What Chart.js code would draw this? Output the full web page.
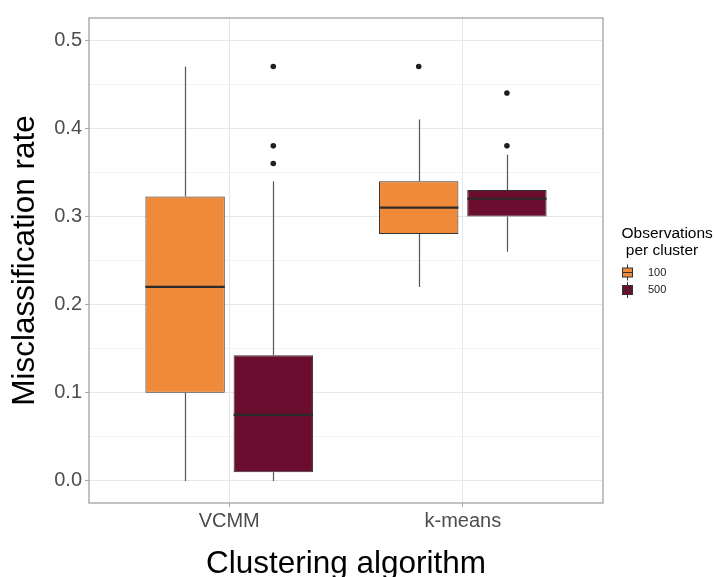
<!DOCTYPE html>
<html>
<head>
<meta charset="utf-8">
<script src="https://cdn.jsdelivr.net/npm/chart.js@4.4.1/dist/chart.umd.min.js"></script>
<style>
html, body { margin: 0; padding: 0; background: #fff; }
</style>
</head>
<body>
<canvas id="myChart" width="715" height="577"></canvas>
<script>
const categories = ['VCMM', 'k-means'];
const groups = ['100', '500'];
const groupColors = ['#F08A3B', '#6B0D2E'];

// box statistics per category
const lower100 = [0.00, 0.22];
const q1_100 = [0.10, 0.28];
const median100 = [0.22, 0.31];
const q3_100 = [0.3225, 0.34];
const upper100 = [0.47, 0.41];
const outliers100 = [[], [0.47]];

const lower500 = [0.00, 0.26];
const q1_500 = [0.01, 0.30];
const median500 = [0.075, 0.32];
const q3_500 = [0.1425, 0.33];
const upper500 = [0.34, 0.37];
const outliers500 = [[0.47, 0.38, 0.36], [0.44, 0.38]];

const yMajorTicks = [0, 0.1, 0.2, 0.3, 0.4, 0.5];
const yTickLabels = ['0.0', '0.1', '0.2', '0.3', '0.4', '0.5'];
const yMinorTicks = [0.05, 0.15, 0.25, 0.35, 0.45];

const FONT = "'Liberation Sans', Arial, Helvetica, sans-serif";
const dodgeWidth = 0.755;   // share of a category taken by both boxes
const stats = [
  {lo: lower100, q1: q1_100, med: median100, q3: q3_100, hi: upper100, out: outliers100},
  {lo: lower500, q1: q1_500, med: median500, q3: q3_500, hi: upper500, out: outliers500}
];

function isMajor(v) {
  return Math.abs(v * 10 - Math.round(v * 10)) < 1e-6;
}

let datasets = [];
stats.forEach((s, g) => {
  datasets.push({
    type: 'bar',
    label: groups[g],
    data: categories.map((c, i) => ({x: i + 1, y: [s.q1[i], s.q3[i]]})),
    backgroundColor: groupColors[g],
    borderColor: '#333333',
    borderWidth: 1,
    borderSkipped: false,
    barPercentage: 0.9,
    categoryPercentage: dodgeWidth,
    order: 2
  });
});
stats.forEach((s, g) => {
  const shift = (g - 0.5) * dodgeWidth / 2;
  let pts = [];
  categories.forEach((c, i) => {
    s.out[i].forEach(v => pts.push({x: i + 1 + shift, y: v}));
  });
  datasets.push({
    type: 'scatter',
    label: groups[g] + ' outliers',
    data: pts,
    pointRadius: 2.8,
    pointBackgroundColor: '#1f1f1f',
    pointBorderWidth: 0,
    order: 1
  });
});

const boxExtras = {
  id: 'boxExtras',
  afterDatasetsDraw(chart) {
    const ctx = chart.ctx;
    const y = chart.scales.y;
    ctx.save();
    stats.forEach((s, g) => {
      const meta = chart.getDatasetMeta(g);
      meta.data.forEach((bar, i) => {
        const x = Math.round(bar.x) + 0.5;
        ctx.strokeStyle = '#555555';
        ctx.lineWidth = 1.2;
        ctx.beginPath();
        ctx.moveTo(x, y.getPixelForValue(s.hi[i]));
        ctx.lineTo(x, y.getPixelForValue(s.q3[i]));
        ctx.moveTo(x, y.getPixelForValue(s.q1[i]));
        ctx.lineTo(x, y.getPixelForValue(s.lo[i]));
        ctx.stroke();
        ctx.strokeStyle = '#2b2b2b';
        ctx.lineWidth = 2.2;
        const ym = y.getPixelForValue(s.med[i]);
        ctx.beginPath();
        ctx.moveTo(bar.x - bar.width / 2, ym);
        ctx.lineTo(bar.x + bar.width / 2, ym);
        ctx.stroke();
      });
    });
    ctx.restore();
  },
  afterDraw(chart) {
    const ctx = chart.ctx;
    const a = chart.chartArea;
    ctx.save();
    // panel border
    ctx.strokeStyle = '#a8a8a8';
    ctx.lineWidth = 1.4;
    ctx.strokeRect(a.left, a.top, a.right - a.left, a.bottom - a.top);

    // legend
    ctx.fillStyle = '#000';
    ctx.font = '15.5px ' + FONT;
    ctx.textAlign = 'left';
    ctx.textBaseline = 'alphabetic';
    ctx.fillText('Observations', 621.5, 237.5);
    ctx.fillText(' per cluster', 621.5, 255);
    groups.forEach((lab, g) => {
      const cy = 272.5 + g * 17.5;
      ctx.strokeStyle = '#333333';
      ctx.lineWidth = 1;
      ctx.beginPath();
      ctx.moveTo(627.5, cy - 8);
      ctx.lineTo(627.5, cy + 8);
      ctx.stroke();
      ctx.fillStyle = groupColors[g];
      ctx.fillRect(622.5, cy - 4.5, 10, 9);
      ctx.strokeRect(622.5, cy - 4.5, 10, 9);
      ctx.beginPath();
      ctx.moveTo(622.5, cy);
      ctx.lineTo(632.5, cy);
      ctx.stroke();
      ctx.fillStyle = '#1a1a1a';
      ctx.font = '11px ' + FONT;
      ctx.textBaseline = 'middle';
      ctx.fillText(lab, 648, cy);
      ctx.textBaseline = 'alphabetic';
    });
    ctx.restore();
  }
};

const myChart = new Chart(document.getElementById('myChart').getContext('2d'), {
  type: 'bar',
  data: { datasets: datasets },
  plugins: [boxExtras],
  options: {
    responsive: false,
    animation: false,
    devicePixelRatio: 1,
    layout: { padding: { top: 18, right: 112, bottom: 0, left: 0 } },
    plugins: { legend: { display: false }, tooltip: { enabled: false } },
    scales: {
      x: {
        type: 'linear',
        min: 0.4,
        max: 2.6,
        offset: false,
        afterBuildTicks: (scale) => {
          scale.ticks = categories.map((c, i) => ({value: i + 1}));
        },
        afterFit: (scale) => { scale.height = 74; },
        border: { display: false },
        grid: { offset: false, color: '#e6e6e6', lineWidth: 1, tickColor: '#a8a8a8', tickLength: 4 },
        ticks: {
          autoSkip: false,
          maxRotation: 0,
          padding: 2,
          color: '#4d4d4d',
          font: { family: FONT, size: 20 },
          callback: (v) => categories[Math.round(v) - 1]
        },
        title: {
          display: true,
          text: 'Clustering algorithm',
          color: '#000',
          font: { family: FONT, size: 31.5, lineHeight: 0.8 },
          padding: { top: 0, bottom: 0 }
        }
      },
      y: {
        type: 'linear',
        min: -0.025,
        max: 0.525,
        afterBuildTicks: (scale) => {
          scale.ticks = yMajorTicks.concat(yMinorTicks).sort((a, b) => a - b).map(v => ({value: v}));
        },
        afterFit: (scale) => { scale.width = 89; },
        border: { display: false },
        grid: {
          color: (c) => isMajor(c.tick.value) ? '#e6e6e6' : '#f3f3f3',
          lineWidth: 1,
          tickColor: (c) => isMajor(c.tick.value) ? '#a8a8a8' : 'rgba(0,0,0,0)',
          tickLength: 4
        },
        ticks: {
          padding: 3,
          color: '#4d4d4d',
          font: { family: FONT, size: 20 },
          callback: (v) => {
            const k = yMajorTicks.findIndex(m => Math.abs(m - v) < 1e-6);
            return k >= 0 ? yTickLabels[k] : '';
          }
        },
        title: {
          display: true,
          text: 'Misclassification rate',
          color: '#000',
          font: { family: FONT, size: 31.5 },
          padding: { top: 6, bottom: 0 }
        }
      }
    }
  }
});
</script>
</body>
</html>
